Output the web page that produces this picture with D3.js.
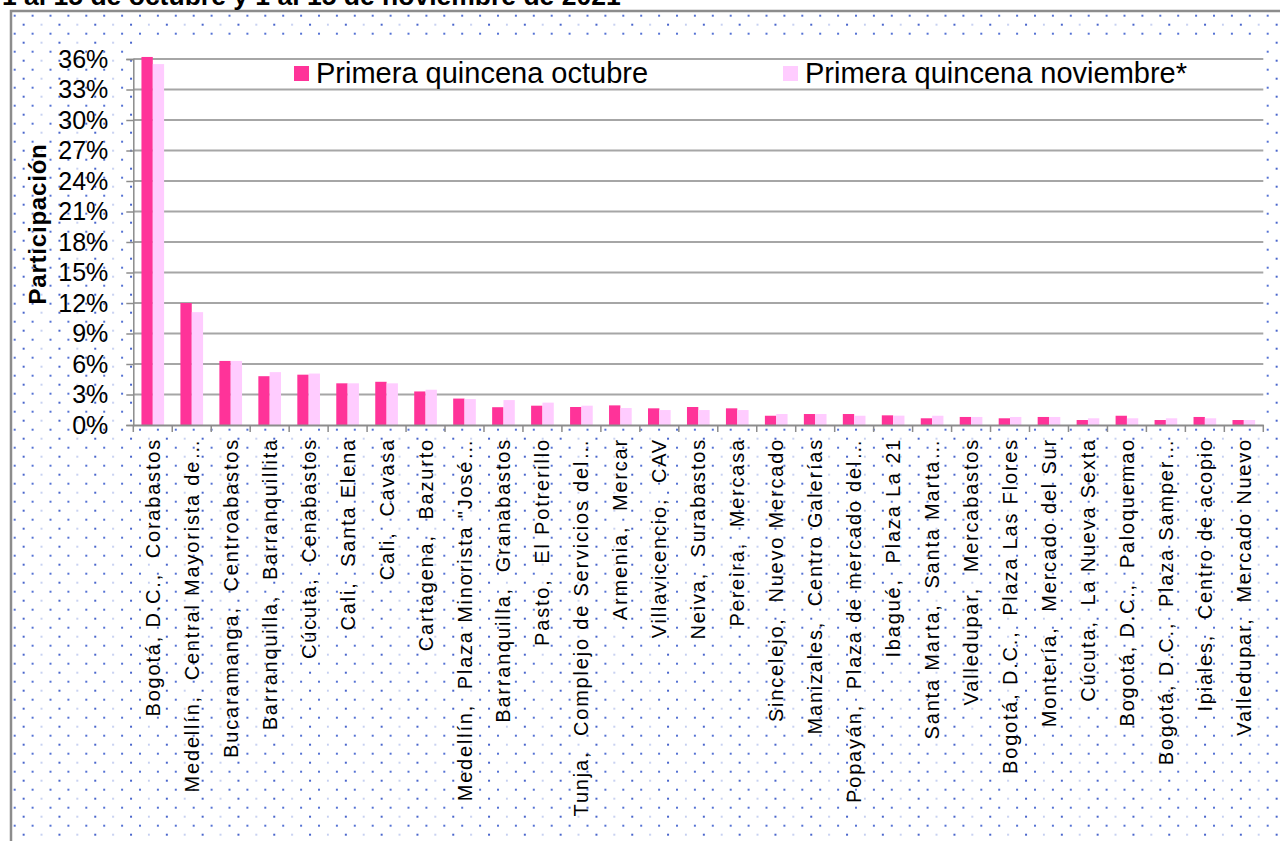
<!DOCTYPE html>
<html>
<head>
<meta charset="utf-8">
<script src="https://cdn.jsdelivr.net/npm/d3@7"></script>
<style>
  body { margin: 0; background: #fff; }
  svg { display: block; font-family: "Liberation Sans", Arial, sans-serif; }
</style>
</head>
<body>
<div id="chart"></div>
<script>
// datos
var categorias = [
	"Bogotá, D.C.,  Corabastos",
	"Medellín,  Central Mayorista de…",
	"Bucaramanga,  Centroabastos",
	"Barranquilla,  Barranquillita",
	"Cúcuta,  Cenabastos",
	"Cali,  Santa Elena",
	"Cali,  Cavasa",
	"Cartagena,  Bazurto",
	"Medellín,  Plaza Minorista \"José…",
	"Barranquilla,  Granabastos",
	"Pasto,  El Potrerillo",
	"Tunja,  Complejo de Servicios del…",
	"Armenia,  Mercar",
	"Villavicencio,  CAV",
	"Neiva,  Surabastos",
	"Pereira,  Mercasa",
	"Sincelejo,  Nuevo Mercado",
	"Manizales,  Centro Galerías",
	"Popayán,  Plaza de mercado del…",
	"Ibagué,  Plaza La 21",
	"Santa Marta,  Santa Marta…",
	"Valledupar,  Mercabastos",
	"Bogotá, D.C.,  Plaza Las Flores",
	"Montería,  Mercado del Sur",
	"Cúcuta,  La Nueva Sexta",
	"Bogotá, D.C.,  Paloquemao",
	"Bogotá, D.C.,  Plaza Samper…",
	"Ipiales,  Centro de acopio",
	"Valledupar,  Mercado Nuevo"
];

var octubre = [36.2, 12.0, 6.3, 4.8, 4.95, 4.1, 4.25, 3.3, 2.6, 1.75, 1.9, 1.77, 1.93, 1.64, 1.77, 1.64, 0.91, 1.08, 1.08, 0.95, 0.66, 0.79, 0.66, 0.79, 0.49, 0.91, 0.49, 0.79, 0.49];
var noviembre = [35.5, 11.1, 6.3, 5.2, 5.06, 4.1, 4.1, 3.47, 2.55, 2.45, 2.2, 1.9, 1.67, 1.47, 1.47, 1.47, 1.08, 1.08, 0.91, 0.92, 0.91, 0.79, 0.79, 0.79, 0.66, 0.66, 0.66, 0.66, 0.49];

var series = ["Primera quincena octubre", "Primera quincena noviembre*"];
var colores = ["#FF3399", "#FFCCFF"];
var yTicks = [0, 3, 6, 9, 12, 15, 18, 21, 24, 27, 30, 33, 36];

var width = 1280, height = 841;
var plot = { left: 133.3, right: 1263.3, top: 38, bottom: 425 };

var svg = d3.select("#chart")
	.append("svg")
		.attr("width", width)
		.attr("height", height);

// patron de puntos del fondo
var pat = svg.append("defs").append("pattern")
	.attr("id", "puntos")
	.attr("patternUnits", "userSpaceOnUse")
	.attr("x", 13.7).attr("y", 14.7)
	.attr("width", 35.8).attr("height", 18);
pat.append("rect").attr("x", 0).attr("y", 0).attr("width", 2).attr("height", 2).attr("fill", "#5572d4");
pat.append("rect").attr("x", 17.9).attr("y", 0).attr("width", 2).attr("height", 2).attr("fill", "#5572d4");
pat.append("rect").attr("x", 8.95).attr("y", 9).attr("width", 2).attr("height", 2).attr("fill", "#4a66cc");
pat.append("rect").attr("x", 27.1).attr("y", 9.3).attr("width", 1.4).attr("height", 1.4).attr("fill", "#8fa2e2");

svg.append("rect")
	.attr("x", 11).attr("y", 11)
	.attr("width", width).attr("height", height)
	.attr("fill", "url(#puntos)");

// marco
svg.append("path")
	.attr("d", "M11," + height + "V11H" + width)
	.attr("fill", "none")
	.attr("stroke", "#8c8c8c")
	.attr("stroke-width", 2.5);

// titulo cortado arriba
svg.append("text")
	.attr("x", 2).attr("y", 5)
	.attr("font-size", "26.5px")
	.attr("font-weight", "bold")
	.attr("fill", "#000")
	.text("1 al 15 de octubre y 1 al 15 de noviembre de 2021");

// area de trazado
svg.append("rect")
	.attr("x", plot.left).attr("y", plot.top)
	.attr("width", plot.right - plot.left)
	.attr("height", plot.bottom - plot.top)
	.attr("fill", "#fff");

var x = d3.scaleBand()
	.domain(categorias)
	.range([plot.left, plot.right]);

var xSub = d3.scaleBand()
	.domain(series)
	.range([0, x.bandwidth()])
	.paddingOuter(0.72);

var y = d3.scaleLinear()
	.domain([0, 36])
	.range([plot.bottom, 59]);

// lineas de division
svg.append("g")
	.selectAll("line")
	.data(yTicks.slice(1))
	.enter().append("line")
		.attr("x1", plot.left).attr("x2", plot.right)
		.attr("y1", function(d) { return y(d); })
		.attr("y2", function(d) { return y(d); })
		.attr("stroke", "#a6a6a6")
		.attr("stroke-width", 2);

// barras
var datos = categorias.map(function(c, i) {
	return { cat: c, valores: [octubre[i], noviembre[i]] };
});

var grupos = svg.append("g")
	.selectAll("g")
	.data(datos)
	.enter().append("g")
		.attr("transform", function(d) { return "translate(" + x(d.cat) + ",0)"; });

grupos.selectAll("rect")
	.data(function(d) { return d.valores.map(function(v, j) { return { s: series[j], v: v, j: j }; }); })
	.enter().append("rect")
		.attr("x", function(d) { return xSub(d.s); })
		.attr("width", xSub.bandwidth())
		.attr("y", function(d) { return y(d.v); })
		.attr("height", function(d) { return plot.bottom - y(d.v); })
		.attr("fill", function(d) { return colores[d.j]; });

// eje Y
var yAxis = d3.axisLeft(y)
	.tickValues(yTicks)
	.tickSize(7)
	.tickPadding(18)
	.tickFormat(function(d) { return d + "%"; });

var yAxisGroup = svg.append("g")
	.attr("transform", "translate(" + plot.left + ",0)")
	.call(yAxis);
yAxisGroup.selectAll("path, line").attr("stroke", "#8c8c8c").attr("stroke-width", 1.5);
yAxisGroup.selectAll("text")
	.attr("font-family", "'Liberation Sans', Arial, sans-serif")
	.attr("font-size", "25px")
	.attr("fill", "#000");

// eje X
var xAxis = d3.axisBottom(x).tickSize(0).tickPadding(0);
var xAxisGroup = svg.append("g")
	.attr("transform", "translate(0," + plot.bottom + ")")
	.call(xAxis);
xAxisGroup.select(".domain").attr("stroke", "#8c8c8c").attr("stroke-width", 2);
xAxisGroup.selectAll("text")
	.attr("font-family", "'Liberation Sans', Arial, sans-serif")
	.attr("font-size", "20px")
	.attr("fill", "#000")
	.attr("letter-spacing", "1.8px")
	.style("white-space", "pre")
	.attr("transform", "rotate(-90)")
	.attr("x", -13)
	.attr("y", 0)
	.attr("dy", "0.35em")
	.style("text-anchor", "end");

// marcas entre categorias
var bordes = categorias.map(function(c) { return x(c); }).concat([plot.right]);
xAxisGroup.selectAll(".borde")
	.data(bordes)
	.enter().append("line")
		.attr("class", "borde")
		.attr("x1", function(d) { return d; })
		.attr("x2", function(d) { return d; })
		.attr("y1", 0).attr("y2", 7)
		.attr("stroke", "#8c8c8c")
		.attr("stroke-width", 1.5);

// titulo eje Y
svg.append("text")
	.attr("transform", "translate(46,224) rotate(-90)")
	.attr("text-anchor", "middle")
	.attr("font-size", "24px")
	.attr("font-weight", "bold")
	.attr("letter-spacing", "0.8px")
	.text("Participación");

// leyenda
var legendX = [294, 783];
var leyenda = svg.append("g")
	.selectAll("g")
	.data(series)
	.enter().append("g")
		.attr("transform", function(d, i) { return "translate(" + legendX[i] + ",66)"; });
leyenda.append("rect")
	.attr("width", 15).attr("height", 15)
	.attr("fill", function(d, i) { return colores[i]; });
leyenda.append("text")
	.attr("x", 22).attr("y", 17)
	.attr("font-size", "29px")
	.text(function(d) { return d; });
</script>
</body>
</html>
